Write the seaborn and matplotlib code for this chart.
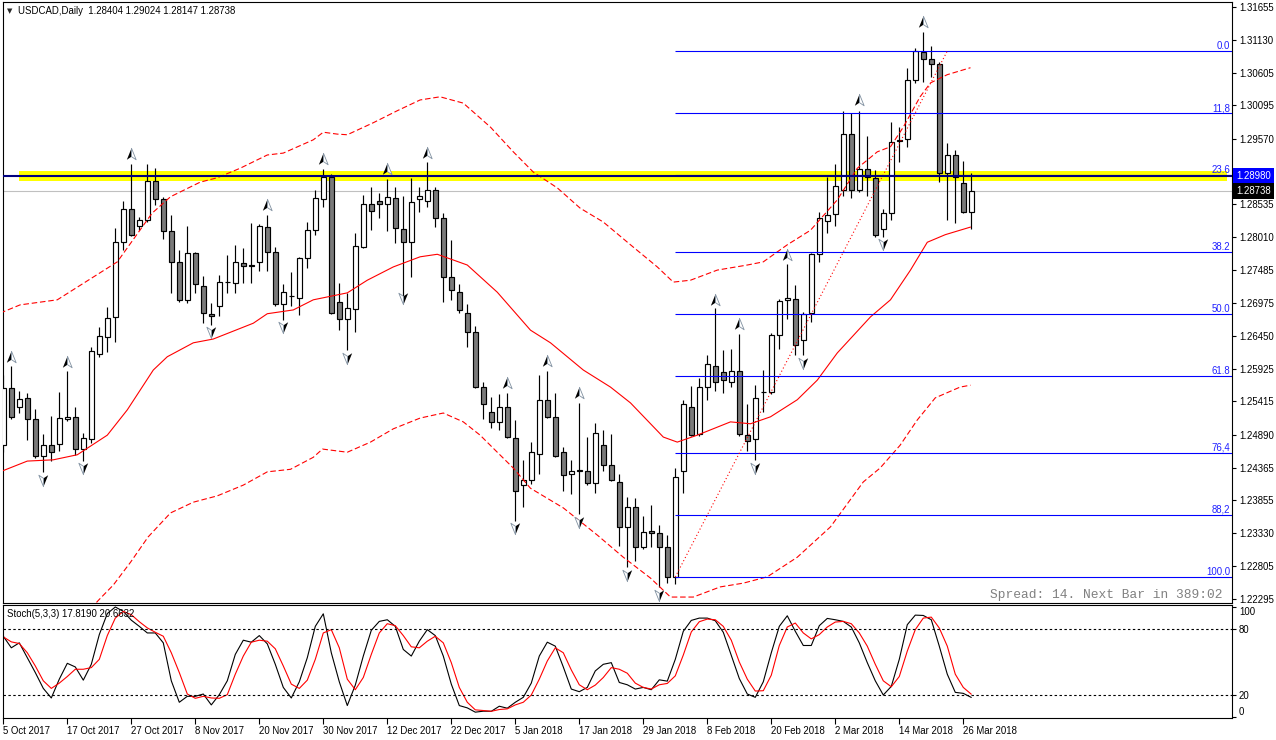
import numpy as np
import matplotlib
matplotlib.use("Agg")
import matplotlib.pyplot as plt
import matplotlib.transforms as mtransforms
from matplotlib.path import Path
import seaborn as sns

# ---------------- data ----------------
symbol_title = "USDCAD,Daily  1.28404 1.29024 1.28147 1.28738"
stoch_title = "Stoch(5,3,3) 17.8190 20.6632"
spread_text = "Spread: 14. Next Bar in 389:02"

date_labels = ["5 Oct 2017", "17 Oct 2017", "27 Oct 2017", "8 Nov 2017", "20 Nov 2017",
               "30 Nov 2017", "12 Dec 2017", "22 Dec 2017", "5 Jan 2018", "17 Jan 2018",
               "29 Jan 2018", "8 Feb 2018", "20 Feb 2018", "2 Mar 2018", "14 Mar 2018",
               "26 Mar 2018"]
date_bars = [0, 8, 16, 24, 32, 40, 48, 56, 64, 72, 80, 88, 96, 104, 112, 120]

opens = [1.2472, 1.2563, 1.2533, 1.2547, 1.2514, 1.2455, 1.2472, 1.2474, 1.2514, 1.2517,
         1.2466, 1.2482, 1.2616, 1.2643, 1.2675, 1.2793, 1.2846, 1.2819, 1.2828, 1.2890,
         1.2861, 1.2811, 1.2762, 1.2702, 1.2776, 1.2724, 1.2680, 1.2692, 1.2730, 1.2729,
         1.2760, 1.2757, 1.2762, 1.2817, 1.2778, 1.2695, 1.2708, 1.2705, 1.2768, 1.2812,
         1.2861, 1.2896, 1.2699, 1.2672, 1.2687, 1.2785, 1.2853, 1.2858, 1.2853, 1.2863,
         1.2814, 1.2793, 1.2861, 1.2858, 1.2876, 1.2831, 1.2738, 1.2714, 1.2681, 1.2651,
         1.2564, 1.2525, 1.2509, 1.2533, 1.2484, 1.2409, 1.2417, 1.2458, 1.2544, 1.2517,
         1.2461, 1.2427, 1.2433, 1.2431, 1.2412, 1.2472, 1.2441, 1.2414, 1.2343, 1.2374,
         1.2311, 1.2336, 1.2333, 1.2311, 1.2264, 1.2431, 1.2533, 1.2490, 1.2564, 1.2597,
         1.2588, 1.2572, 1.2589, 1.2488, 1.2482, 1.2556, 1.2556, 1.2646, 1.2702, 1.2703,
         1.2638, 1.2681, 1.2774, 1.2827, 1.2838, 1.2876, 1.2964, 1.2876, 1.2909, 1.2895,
         1.2814, 1.2839, 1.2953, 1.2956, 1.3050, 1.3094, 1.3083, 1.3075, 1.2903, 1.2931,
         1.2887, 1.28404]
highs = [1.2583, 1.2597, 1.2558, 1.2555, 1.2529, 1.2490, 1.2518, 1.2556, 1.2589, 1.2533,
         1.2492, 1.2627, 1.2659, 1.2691, 1.2816, 1.2858, 1.2917, 1.2833, 1.2917, 1.2910,
         1.2865, 1.2836, 1.2781, 1.2819, 1.2778, 1.2740, 1.2697, 1.2741, 1.2773, 1.2789,
         1.2784, 1.2824, 1.2822, 1.2836, 1.2785, 1.2727, 1.2746, 1.2770, 1.2825, 1.2876,
         1.2909, 1.2901, 1.2729, 1.2713, 1.2808, 1.2868, 1.2880, 1.2871, 1.2893, 1.2880,
         1.2866, 1.2895, 1.2880, 1.2920, 1.2880, 1.2839, 1.2797, 1.2727, 1.2695, 1.2661,
         1.2572, 1.2548, 1.2553, 1.2555, 1.2512, 1.2449, 1.2477, 1.2583, 1.2589, 1.2555,
         1.2469, 1.2449, 1.2539, 1.2485, 1.2507, 1.2496, 1.2490, 1.2427, 1.2390, 1.2389,
         1.2360, 1.2378, 1.2346, 1.2330, 1.2436, 1.2544, 1.2566, 1.2578, 1.2615, 1.2689,
         1.2623, 1.2624, 1.2648, 1.2537, 1.2567, 1.2591, 1.2650, 1.2704, 1.2759, 1.2725,
         1.2683, 1.2776, 1.2841, 1.2896, 1.2917, 1.3001, 1.2997, 1.3001, 1.2961, 1.2907,
         1.2846, 1.2983, 1.2975, 1.3069, 1.3100, 1.3126, 1.3103, 1.3078, 1.2950, 1.2939,
         1.2922, 1.29024]
lows = [1.2461, 1.2514, 1.2523, 1.2480, 1.2452, 1.2430, 1.2447, 1.2463, 1.2510, 1.2457,
        1.2447, 1.2476, 1.2612, 1.2619, 1.2635, 1.2781, 1.2803, 1.2812, 1.2825, 1.2852,
        1.2798, 1.2713, 1.2699, 1.2697, 1.2713, 1.2665, 1.2662, 1.2676, 1.2713, 1.2713,
        1.2729, 1.2729, 1.2748, 1.2748, 1.2692, 1.2670, 1.2692, 1.2678, 1.2752, 1.2805,
        1.2849, 1.2680, 1.2654, 1.2623, 1.2651, 1.2784, 1.2812, 1.2831, 1.2811, 1.2792,
        1.2706, 1.2738, 1.2841, 1.2849, 1.2817, 1.2699, 1.2702, 1.2681, 1.2627, 1.2563,
        1.2514, 1.2499, 1.2496, 1.2484, 1.2352, 1.2374, 1.2411, 1.2427, 1.2515, 1.2453,
        1.2400, 1.2395, 1.2363, 1.2409, 1.2397, 1.2431, 1.2416, 1.2313, 1.2279, 1.2289,
        1.2308, 1.2311, 1.2248, 1.2254, 1.2253, 1.2397, 1.2487, 1.2487, 1.2544, 1.2558,
        1.2555, 1.2564, 1.2487, 1.2463, 1.2449, 1.2525, 1.2553, 1.2624, 1.2672, 1.2615,
        1.2615, 1.2667, 1.2762, 1.2808, 1.2819, 1.2866, 1.2863, 1.2873, 1.2866, 1.2801,
        1.2801, 1.2828, 1.2920, 1.2944, 1.3045, 1.3046, 1.3054, 1.2888, 1.2828, 1.2824,
        1.2839, 1.28147]
closes = [1.2563, 1.2517, 1.2545, 1.2514, 1.2455, 1.2472, 1.2461, 1.2515, 1.2517, 1.2466,
          1.2484, 1.2621, 1.2645, 1.2673, 1.2793, 1.2846, 1.2805, 1.2828, 1.2890, 1.2861,
          1.2811, 1.2762, 1.2702, 1.2776, 1.2727, 1.2681, 1.2676, 1.2730, 1.2730, 1.2762,
          1.2755, 1.2755, 1.2819, 1.2778, 1.2695, 1.2714, 1.2708, 1.2768, 1.2812, 1.2863,
          1.2896, 1.2681, 1.2672, 1.2689, 1.2787, 1.2853, 1.2842, 1.2853, 1.2865, 1.2816,
          1.2793, 1.2857, 1.2866, 1.2876, 1.2831, 1.2738, 1.2717, 1.2686, 1.2651, 1.2564,
          1.2537, 1.2509, 1.2533, 1.2485, 1.2400, 1.2417, 1.2461, 1.2544, 1.2517, 1.2455,
          1.2425, 1.2431, 1.2431, 1.2412, 1.2492, 1.2441, 1.2417, 1.2343, 1.2374, 1.2311,
          1.2335, 1.2333, 1.2311, 1.2264, 1.2422, 1.2537, 1.2488, 1.2564, 1.2600, 1.2572,
          1.2575, 1.2589, 1.2490, 1.2479, 1.2547, 1.2556, 1.2646, 1.2700, 1.2705, 1.2631,
          1.2680, 1.2774, 1.2831, 1.2836, 1.2882, 1.2964, 1.2876, 1.2909, 1.2896, 1.2805,
          1.2839, 1.2951, 1.2955, 1.3050, 1.3095, 1.3083, 1.3075, 1.2903, 1.2931, 1.2896,
          1.2841, 1.28738]

# Bollinger bands (bar position, price)
bb_mid_x = [-0.4, 3, 6.25, 9.25, 13, 15.5, 18.75, 20.5, 23.75, 26.25, 31.25, 33, 36.25, 38.75,
            43, 45.5, 48.75, 52.1, 54.25, 58, 61.75, 65.9, 68.4, 72.5, 75.9, 78.4, 82.5, 84.25,
            86.75, 90.9, 93.4, 95.9, 99.25, 101.75, 104.25, 108.4, 110.9, 113.4, 115.5, 117.75, 120.9]
bb_mid_y = [1.2430, 1.2447, 1.2449, 1.2457, 1.2488, 1.2528, 1.2591, 1.2612, 1.2634, 1.2640,
            1.2665, 1.2680, 1.2686, 1.2702, 1.2713, 1.2733, 1.2754, 1.2770, 1.2774, 1.2757,
            1.2714, 1.2654, 1.2634, 1.2591, 1.2564, 1.2539, 1.2485, 1.2477, 1.2488, 1.2509,
            1.2506, 1.2517, 1.2544, 1.2575, 1.2618, 1.2675, 1.2702, 1.2749, 1.2793, 1.2805, 1.2817]
bb_up_x = [-0.4, 2.1, 6.75, 14.25, 18.6, 20.9, 24.6, 26.75, 29.6, 33, 35, 38.75, 40, 41.75, 43,
           46.25, 49.25, 52.1, 54.6, 57.5, 60.9, 63.75, 66.25, 69.25, 72.1, 75, 78.4, 81.75, 83.75,
           85.9, 89.25, 93, 95, 98, 100.9, 104.25, 106.75, 109.25, 110.9, 112.5, 114.6, 115.9, 118, 120.9]
bb_up_y = [1.2681, 1.2694, 1.2702, 1.2762, 1.2839, 1.2865, 1.2888, 1.2895, 1.2910, 1.2931,
           1.2934, 1.2955, 1.2967, 1.2964, 1.2963, 1.2982, 1.3001, 1.3018, 1.3023, 1.3013,
           1.2975, 1.2936, 1.2904, 1.2879, 1.2847, 1.2825, 1.2789, 1.2754, 1.2730, 1.2733,
           1.2749, 1.2757, 1.2762, 1.2789, 1.2812, 1.2860, 1.2910, 1.2936, 1.2944, 1.2975,
           1.3023, 1.3045, 1.3058, 1.3069]
bb_lo_x = [10.25, 11.9, 13.75, 15.9, 18.1, 20.9, 23.75, 26.75, 30, 33, 35.9, 38.75, 39.9, 43,
           45.9, 48.75, 52.1, 55, 57.5, 59.6, 61.75, 63.75, 65.9, 70, 74.25, 77.5, 80.9, 83.4,
           86.25, 89.6, 92.5, 95.5, 99.25, 103.4, 107.5, 109.6, 112.1, 114.25, 116.5, 119.6, 120.9]
bb_lo_y = [1.2204, 1.2227, 1.2251, 1.2287, 1.2327, 1.2365, 1.2382, 1.2392, 1.2409, 1.2430,
           1.2434, 1.2453, 1.2466, 1.2461, 1.2477, 1.2498, 1.2515, 1.2523, 1.2509, 1.2488,
           1.2461, 1.2436, 1.2404, 1.2373, 1.2330, 1.2295, 1.2262, 1.2232, 1.2232, 1.2248,
           1.2254, 1.2264, 1.2295, 1.2343, 1.2414, 1.2436, 1.2472, 1.2512, 1.2547, 1.2564, 1.2567]

# Fractal arrows
frac_up_bars = [1, 8, 16, 33, 40, 48, 53, 63, 68, 72, 89, 92, 98, 107, 115]
frac_up_prices = [1.2612, 1.2604, 1.2933, 1.2852, 1.2925, 1.2909, 1.2934, 1.2570, 1.2605,
                  1.2555, 1.2702, 1.2664, 1.2773, 1.3018, 1.3141]
frac_dn_bars = [5, 10, 26, 35, 43, 50, 64, 72, 78, 82, 94, 100, 110]
frac_dn_prices = [1.2417, 1.2436, 1.2651, 1.2659, 1.2610, 1.2705, 1.2341, 1.2351, 1.2267,
                  1.2235, 1.2436, 1.2602, 1.2790]

# Fibonacci retracement
fib_start_bar = 84
fib_end_bar = 118
fib_high = 1.30954
fib_low = 1.22638
fib_ratios = [0.0, 11.8, 23.6, 38.2, 50.0, 61.8, 76.4, 88.2, 100.0]
fib_labels = ["0.0", "11,8", "23.6", "38.2", "50.0", "61.8", "76,4", "88,2", "100.0"]

# Horizontal objects
hline_price = 1.28980
zone_low, zone_high = 1.28899, 1.29057
bid_price = 1.28738

price_ticks = [1.31655, 1.31130, 1.30605, 1.30095, 1.29570, 1.29045, 1.28535, 1.28010,
               1.27485, 1.26975, 1.26450, 1.25925, 1.25415, 1.24890, 1.24365, 1.23855,
               1.23330, 1.22805, 1.22295]
hidden_tick = 1.29045  # covered by the 1.28980 price box in the reference

stoch_k = [73.4, 62.9, 67.4, 53.9, 40.4, 26.0, 17.3, 34.4, 48.8, 45.5,
           33.5, 47.9, 74.9, 94.0, 100.0, 96.0, 88.0, 82.4, 76.4, 76.4,
           67.4, 32.9, 13.4, 18.8, 18.8, 20.9, 11.0, 20.3, 32.9, 56.9,
           69.8, 68.0, 74.0, 66.5, 47.9, 26.9, 17.3, 32.0, 53.9, 82.4,
           93.8, 58.4, 32.0, 10.4, 29.0, 55.4, 78.8, 86.9, 88.4, 82.4,
           61.4, 55.4, 68.9, 79.4, 74.0, 55.4, 29.9, 10.4, 8.3, 4.4,
           5.3, 5.2, 9.8, 8.0, 13.4, 17.9, 30.8, 55.4, 68.0, 64.4,
           45.5, 25.4, 23.0, 26.9, 41.9, 47.9, 49.4, 31.4, 29.3, 25.4,
           26.9, 24.8, 33.8, 32.6, 52.4, 77.9, 87.8, 89.9, 89.9, 87.5,
           77.0, 56.0, 35.0, 20.9, 17.9, 32.0, 58.4, 82.4, 92.0, 77.9,
           65.0, 65.0, 83.0, 89.6, 88.4, 86.9, 81.8, 67.4, 49.4, 32.9,
           20.0, 27.8, 52.4, 83.9, 92.6, 92.3, 88.4, 64.4, 38.9, 22.4,
           21.5, 17.8]
stoch_d = [72.8, 68.3, 66.8, 58.4, 46.4, 32.9, 26.0, 30.8, 36.8, 43.4,
           43.4, 44.9, 52.4, 74.0, 89.9, 96.0, 93.0, 86.6, 81.0, 77.0,
           73.4, 58.4, 40.4, 20.9, 17.0, 18.8, 17.3, 17.0, 20.3, 38.9,
           55.4, 68.0, 69.8, 68.9, 62.0, 46.4, 29.9, 26.0, 33.5, 52.4,
           76.4, 79.4, 62.9, 34.4, 24.8, 35.9, 56.9, 76.4, 84.8, 83.0,
           74.0, 63.8, 62.9, 68.9, 73.4, 67.4, 49.4, 26.9, 13.4, 6.5,
           5.9, 5.2, 6.8, 7.4, 11.0, 13.4, 20.0, 34.4, 50.9, 62.9,
           58.4, 42.8, 29.3, 24.8, 29.0, 35.9, 44.9, 43.4, 39.8, 30.8,
           26.9, 25.4, 29.3, 30.5, 37.4, 56.3, 77.3, 86.6, 89.0, 88.4,
           82.4, 69.8, 50.0, 34.4, 23.6, 23.9, 38.0, 65.0, 81.8, 85.4,
           76.4, 71.0, 74.9, 81.8, 86.3, 86.9, 84.8, 76.4, 64.4, 47.9,
           32.9, 27.5, 36.8, 59.9, 79.4, 89.9, 90.8, 80.9, 64.4, 38.9,
           26.9, 20.7]
stoch_levels = [80, 20]
stoch_ticks = [100, 80, 20, 0]

# ---------------- figure ----------------
sns.set_style("white")
plt.rcParams['font.family'] = ['Liberation Sans', 'DejaVu Sans']
plt.rcParams['axes.edgecolor'] = 'black'
plt.rcParams['axes.linewidth'] = 0.8

W, H = 1276, 740
fig = plt.figure(figsize=(W / 100, H / 100), dpi=100)
fig.patch.set_facecolor('white')


def rect(x0, y0, x1, y1):
    return [x0 / W, 1 - y1 / H, (x1 - x0) / W, (y1 - y0) / H]


ax = fig.add_axes(rect(2.7, 2, 1232, 603))
ax2 = fig.add_axes(rect(2.7, 605, 1232, 718))

XMIN, XMAX = -0.075, 153.59
FS = 6.9

# ---- main price panel ----
bars = np.arange(len(opens))
o = np.array(opens)
c = np.array(closes)
h = np.array(highs)
l = np.array(lows)
bull = c >= o

ax.axhspan(zone_low, zone_high, xmin=(19 - 2.7) / 1229.3, xmax=(1227 - 2.7) / 1229.3,
           color='#ffff00', lw=0, zorder=1)
ax.axhline(bid_price, color='#c0c0c0', lw=0.8, zorder=2)

ax.vlines(bars, l, h, color='black', lw=0.85, zorder=3)
ax.bar(bars, np.abs(c - o), bottom=np.minimum(o, c), width=0.62,
       color=np.where(bull, 'white', '#7a7a7a'), edgecolor='black', linewidth=0.85, zorder=4)

# Bollinger bands
sns.lineplot(x=bb_mid_x, y=bb_mid_y, ax=ax, color='red', lw=0.8, sort=False, estimator=None, zorder=5)
sns.lineplot(x=bb_up_x, y=bb_up_y, ax=ax, color='red', lw=0.8, sort=False, estimator=None,
             linestyle=(0, (5, 2.5)), zorder=5)
sns.lineplot(x=bb_lo_x, y=bb_lo_y, ax=ax, color='red', lw=0.8, sort=False, estimator=None,
             linestyle=(0, (5, 2.5)), zorder=5)

# Fibonacci
fib_prices = [fib_high - r / 100.0 * (fib_high - fib_low) for r in fib_ratios]
ax.hlines(fib_prices, fib_start_bar, XMAX, color='#0000ff', lw=0.8, zorder=6)
ax.plot([fib_start_bar, fib_end_bar], [fib_low, fib_high], color='red', lw=0.8,
        linestyle=(0, (1, 2.2)), zorder=6)
blend = mtransforms.blended_transform_factory(ax.transAxes, ax.transData)
for p, lab in zip(fib_prices, fib_labels):
    ax.text(1 - 2 / 1229.3, p, lab, transform=blend, ha='right', va='bottom',
            color='#2020ff', fontsize=FS, zorder=7)

ax.axhline(hline_price, color='#000080', lw=1.5, zorder=6)

# Fractal arrows
codes = [Path.MOVETO, Path.LINETO, Path.LINETO, Path.CLOSEPOLY]
up_left = Path([(0, 1), (-0.75, -0.85), (0, -0.35), (0, 1)], codes)
up_right = Path([(0, 1), (0, -0.35), (0.75, -0.85), (0, 1)], codes)
dn_left = Path([(0, -1), (-0.75, 0.85), (0, 0.35), (0, -1)], codes)
dn_right = Path([(0, -1), (0, 0.35), (0.75, 0.85), (0, -1)], codes)
ax.scatter(frac_up_bars, frac_up_prices, marker=up_left, s=80, c='black', lw=0, zorder=8)
ax.scatter(frac_up_bars, frac_up_prices, marker=up_right, s=80, c='white',
           edgecolors='#8090a0', lw=0.6, zorder=8)
ax.scatter(frac_dn_bars, frac_dn_prices, marker=dn_right, s=80, c='black', lw=0, zorder=8)
ax.scatter(frac_dn_bars, frac_dn_prices, marker=dn_left, s=80, c='white',
           edgecolors='#8090a0', lw=0.6, zorder=8)

ax.set_xlim(XMIN, XMAX)
ax.set_ylim(1.22226, 1.31729)
ax.set_xticks([])
ax.yaxis.tick_right()
ax.set_yticks(price_ticks)
ax.set_yticklabels(["" if v == hidden_tick else f"{v:.5f}" for v in price_ticks])
ax.tick_params(axis='y', right=True, left=False, direction='out', length=3, width=0.8,
               pad=2, labelsize=FS, colors='black')
ax.set_xlabel('')
ax.set_ylabel('')
for s in ax.spines.values():
    s.set_color('black')
    s.set_linewidth(0.8)

# price boxes on the axis
ax.text(1 + 4 / 1229.3, hline_price, f"{hline_price:.5f}", transform=blend, ha='left',
        va='center', color='white', fontsize=FS, clip_on=False, zorder=10,
        bbox=dict(boxstyle='square,pad=0.3', fc='#0000ff', ec='none'))
ax.text(1 + 4 / 1229.3, bid_price, f"{bid_price:.5f}", transform=blend, ha='left',
        va='center', color='white', fontsize=FS, clip_on=False, zorder=10,
        bbox=dict(boxstyle='square,pad=0.3', fc='black', ec='none'))

# ---- stochastic panel ----
sns.lineplot(x=bars, y=stoch_k, ax=ax2, color='black', lw=0.8)
sns.lineplot(x=bars, y=stoch_d, ax=ax2, color='red', lw=0.8)
for lv in stoch_levels:
    ax2.axhline(lv, color='black', lw=0.8, linestyle=(0, (2.2, 2.2)))
ax2.set_xlim(XMIN, XMAX)
ax2.set_ylim(-0.9, 101.8)
ax2.yaxis.tick_right()
ax2.set_yticks(stoch_ticks)
ax2.set_yticklabels([str(t) for t in stoch_ticks])
ax2.tick_params(axis='y', right=True, left=False, direction='out', length=3, width=0.8,
                pad=2, labelsize=FS, colors='black')
for lab, t in zip(ax2.get_yticklabels(), stoch_ticks):
    if t == 100:
        lab.set_va('top')
    elif t == 0:
        lab.set_va('bottom')
ax2.set_xticks(date_bars)
ax2.set_xticklabels(date_labels)
for lab in ax2.get_xticklabels():
    lab.set_ha('left')
ax2.tick_params(axis='x', bottom=True, direction='out', length=4, width=0.8, pad=2,
                labelsize=FS, colors='black')
ax2.set_xlabel('')
ax2.set_ylabel('')
for s in ax2.spines.values():
    s.set_color('black')
    s.set_linewidth(0.8)

# ---- texts ----
fig.text(7 / W, 1 - 11 / H, '\u25BC', fontsize=5, va='center', ha='left', family='DejaVu Sans')
fig.text(18 / W, 1 - 11 / H, symbol_title, fontsize=FS, va='center', ha='left', color='black')
fig.text(7 / W, 1 - 614 / H, stoch_title, fontsize=FS, va='center', ha='left', color='black')
fig.text(1222 / W, 1 - 595 / H, spread_text, fontsize=9.3, va='center', ha='right',
         color='#808080', family=['Liberation Mono', 'DejaVu Sans Mono'])

fig.savefig('out.png', dpi=100, facecolor='white')
